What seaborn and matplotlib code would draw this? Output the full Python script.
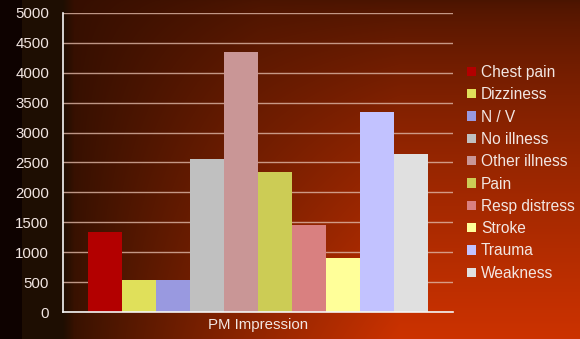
import numpy as np
import pandas as pd
import matplotlib
matplotlib.use("Agg")
import matplotlib.pyplot as plt
import seaborn as sns

group = "PM Impression"
categories = ["Chest pain", "Dizziness", "N / V", "No illness", "Other illness",
              "Pain", "Resp distress", "Stroke", "Trauma", "Weakness"]
values = [1340, 540, 540, 2560, 4350, 2345, 1460, 905, 3350, 2645]
colors = ["#B30000", "#E0E05A", "#9999E0", "#C0C0C0", "#C99696",
          "#CCCC55", "#D98080", "#FFFF99", "#C2C2FF", "#E0E0E0"]
yticks = [0, 500, 1000, 1500, 2000, 2500, 3000, 3500, 4000, 4500, 5000]

sns.set_style("white")
plt.rcParams['font.family'] = ['Liberation Sans', 'DejaVu Sans']

W, H = 580, 339
fig = plt.figure(figsize=(W / 100, H / 100), dpi=100)

# background gradient
bg = fig.add_axes([0, 0, 1, 1], zorder=-10)
xp = np.arange(W)
yp = np.arange(H)
X, Y = np.meshgrid(xp, yp)
tl = np.array([52, 14, 0]) / 255
tr = np.array([74, 20, 0]) / 255
ht = np.clip((X - 60) / 200.0, 0, 1)
top = tl[None, None, :] * (1 - ht[..., None]) + tr[None, None, :] * ht[..., None]
dk = np.array([30, 12, 0]) / 255
br = np.array([204, 50, 0]) / 255
h = np.clip((X - 40) / 360.0, 0, 1) ** 0.8
bottom = dk[None, None, :] * (1 - h[..., None]) + br[None, None, :] * h[..., None]
s = (Y / (H - 1)) ** 0.72
img = top * (1 - s[..., None]) + bottom * s[..., None]
strip1 = np.array([14, 2, 0]) / 255
strip2 = np.array([30, 14, 2]) / 255
img[:, :22, :] = strip1
img[:, 22:62, :] = strip2
w = np.clip((X - 62) / 12.0, 0, 1)
blend = (X >= 62) & (X < 74)
img[blend] = (strip2[None, :] * (1 - w[blend][:, None]) + img[blend] * w[blend][:, None])
bg.imshow(np.clip(img, 0, 1), aspect="auto", extent=[0, 1, 0, 1], origin="upper")
bg.axis("off")

ax = fig.add_axes([63 / W, 27 / H, 390 / W, 299 / H])
ax.patch.set_alpha(0)

df = pd.DataFrame({"group": [group] * len(categories), "category": categories, "value": values})
palette = dict(zip(categories, colors))
sns.barplot(data=df, x="group", y="value", hue="category", hue_order=categories,
            palette=palette, width=0.87, saturation=1, ax=ax, linewidth=0, gap=0)

ax.set_xlim(-0.5, 0.5)
ax.set_ylim(0, 5000)
ax.set_yticks(yticks)
ax.set_xlabel("")
ax.set_ylabel("")

tc = "#F2E6E2"
ax.tick_params(axis="y", colors="#C8A8A0", labelcolor=tc, labelsize=10.8, length=4, width=1, direction="out", pad=6)
ax.tick_params(axis="x", which="major", length=0, labelcolor=tc, labelsize=10.8, pad=4)
ax.set_xticks([-0.5, 0.5], minor=True)
ax.tick_params(axis="x", which="minor", length=4, color="#F0F0F0", width=1, direction="out")

ax.grid(axis="y", color="#E0B8A8", alpha=0.8, linewidth=1)
ax.set_axisbelow(True)
for s_ in ["top", "right"]:
    ax.spines[s_].set_visible(False)
for s_ in ["left", "bottom"]:
    ax.spines[s_].set_color("#F5F5F5")
    ax.spines[s_].set_linewidth(1.2)

handles, labels = ax.get_legend_handles_labels()
if ax.get_legend() is not None:
    ax.get_legend().remove()
leg = fig.legend(handles, labels, loc="upper left", bbox_to_anchor=(467 / W, 1 - 65 / H),
                 frameon=False, fontsize=11.2, handlelength=0.55, handleheight=0.55,
                 handletextpad=0.35, labelspacing=0.47, borderaxespad=0, borderpad=0)
for txt in leg.get_texts():
    txt.set_color(tc)

fig.savefig("out.png", dpi=100)
